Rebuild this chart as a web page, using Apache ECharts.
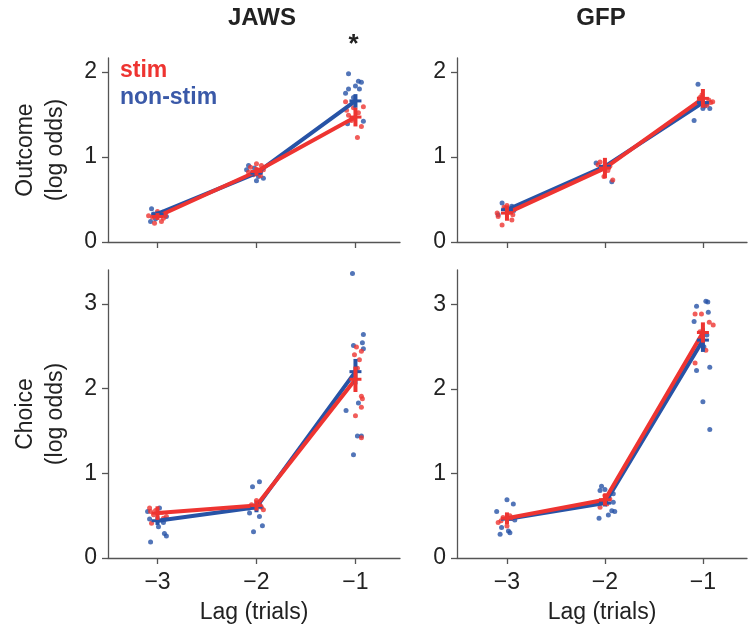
<!DOCTYPE html>
<html>
<head>
<meta charset="utf-8">
<script src="https://cdn.jsdelivr.net/npm/echarts@6/dist/echarts.min.js"></script>
<style>
html,body{margin:0;padding:0;background:#fff;}
#chart{width:754px;height:625px;}
</style>
</head>
<body>
<div id="chart"></div>
<script>
// ---------- data ----------
const lags = [-3, -2, -1];
const xTickLabels = ['\u22123', '\u22122', '\u22121'];
const outcomeTicks = [0, 1, 2];
const choiceTicks = [0, 1, 2, 3];
const panelTitles = ['JAWS', 'GFP'];
const rowNames = ['Outcome\n(log odds)', 'Choice\n(log odds)'];
const xName = 'Lag (trials)';
const legendNames = ['stim', 'non-stim'];

// JAWS - Outcome
const jawsOutStimMean = [0.30, 0.83, 1.47];
const jawsOutStimSem = [0.04, 0.05, 0.11];
const jawsOutNonMean = [0.33, 0.81, 1.66];
const jawsOutNonSem = [0.03, 0.03, 0.08];
const jawsOutStimDots = [[-3.09,0.31],[-3.03,0.22],[-2.94,0.28],[-3.0,0.36],[-2.96,0.24],[-3.05,0.29],[-2.99,0.33],[-2.92,0.31],
  [-2.06,0.88],[-1.95,0.90],[-1.93,0.85],[-2.03,0.79],[-1.98,0.84],[-2.08,0.82],[-2.0,0.92],[-1.96,0.78],
  [-1.10,1.65],[-0.92,1.59],[-1.09,1.55],[-1.07,1.49],[-0.94,1.36],[-0.98,1.23],[-1.04,1.43],[-1.02,1.58],[-0.97,1.52]];
const jawsOutNonDots = [[-3.06,0.39],[-3.07,0.24],[-2.91,0.30],[-2.95,0.35],[-3.02,0.27],[-3.04,0.33],[-2.97,0.31],
  [-2.08,0.90],[-2.10,0.85],[-2.0,0.72],[-1.98,0.77],[-1.93,0.75],[-1.96,0.82],[-2.04,0.80],[-2.02,0.87],
  [-1.07,1.98],[-0.97,1.89],[-0.94,1.88],[-1.0,1.835],[-1.07,1.80],[-1.10,1.75],[-0.92,1.42],[-1.08,1.39],[-1.02,1.70],[-0.96,1.80]];

// GFP - Outcome
const gfpOutStimMean = [0.34, 0.87, 1.69];
const gfpOutStimSem = [0.09, 0.12, 0.11];
const gfpOutNonMean = [0.38, 0.89, 1.64];
const gfpOutNonSem = [0.03, 0.04, 0.05];
const gfpOutStimDots = [[-3.10,0.34],[-3.05,0.20],[-2.94,0.32],[-2.95,0.26],[-3.0,0.43],[-3.09,0.30],[-3.03,0.41],[-2.97,0.36],
  [-1.92,0.73],[-2.05,0.94],[-1.95,0.89],[-2.01,0.77],[-2.07,0.91],[-1.97,0.84],
  [-0.90,1.65],[-1.01,1.73],[-0.94,1.67],[-0.96,1.61],[-1.03,1.70],[-0.92,1.64]];
const gfpOutNonDots = [[-3.05,0.46],[-3.09,0.32],[-2.95,0.42],[-2.99,0.35],[-3.02,0.39],[-2.93,0.37],
  [-2.09,0.93],[-1.93,0.71],[-2.05,0.85],[-1.97,0.90],[-2.02,0.88],
  [-1.05,1.855],[-1.09,1.43],[-1.0,1.57],[-0.93,1.57],[-0.96,1.63],[-1.03,1.68],[-0.98,1.60]];

// JAWS - Choice
const jawsChoStimMean = [0.53, 0.62, 2.11];
const jawsChoStimSem = [0.08, 0.06, 0.15];
const jawsChoNonMean = [0.44, 0.60, 2.20];
const jawsChoNonSem = [0.05, 0.06, 0.15];
const jawsChoStimDots = [[-3.08,0.59],[-3.06,0.41],[-3.04,0.51],[-2.94,0.47],[-2.91,0.49],[-3.07,0.55],[-3.02,0.56],
  [-2.0,0.68],[-1.93,0.57],[-2.03,0.60],[-1.97,0.65],[-2.05,0.63],[-1.95,0.60],
  [-0.99,2.49],[-1.01,2.40],[-0.94,2.44],[-0.96,2.34],[-0.98,2.24],[-0.94,1.91],[-0.93,1.88],[-0.94,1.78],[-1.0,1.68],[-0.94,1.42]];
const jawsChoNonDots = [[-3.10,0.55],[-3.08,0.46],[-3.07,0.19],[-2.99,0.37],[-2.93,0.29],[-2.91,0.26],[-2.94,0.42],[-2.98,0.59],[-2.92,0.46],
  [-2.04,0.84],[-1.97,0.90],[-2.07,0.53],[-2.03,0.31],[-1.94,0.38],[-1.97,0.49],[-2.08,0.59],[-1.99,0.64],
  [-1.03,3.36],[-0.92,2.64],[-0.93,2.54],[-0.92,2.47],[-1.02,2.51],[-1.095,1.74],[-0.97,1.83],[-0.98,1.44],[-0.94,1.44],[-1.02,1.22]];

// GFP - Choice
const gfpChoStimMean = [0.47, 0.69, 2.67];
const gfpChoStimSem = [0.07, 0.07, 0.12];
const gfpChoNonMean = [0.46, 0.65, 2.58];
const gfpChoNonSem = [0.04, 0.04, 0.14];
const gfpChoStimDots = [[-3.09,0.42],[-3.04,0.48],[-2.97,0.50],[-3.0,0.38],[-3.06,0.44],[-2.95,0.47],
  [-2.05,0.60],[-1.95,0.70],[-2.0,0.74],[-1.98,0.64],
  [-1.08,2.89],[-1.015,2.89],[-0.895,2.76],[-0.935,2.79],[-1.03,2.68],[-0.97,2.46],[-1.08,2.31]];
const gfpChoNonDots = [[-3.105,0.55],[-3.0,0.69],[-2.935,0.64],[-2.92,0.45],[-3.07,0.28],[-2.985,0.32],[-2.97,0.30],[-3.055,0.36],
  [-2.035,0.85],[-2.0,0.81],[-2.05,0.80],[-1.915,0.76],[-1.915,0.66],[-1.93,0.56],[-1.9,0.55],[-1.965,0.51],[-2.06,0.47],
  [-1.065,2.98],[-0.97,3.04],[-0.95,3.03],[-0.945,2.91],[-1.09,2.80],[-0.96,2.64],[-0.93,2.26],[-1.065,2.22],[-1.0,1.85],[-0.93,1.52],[-0.99,2.50]];

const sigMarkLag = -1;
const sigMarkText = '*';

// ---------- styling ----------
const RED = '#ee3431';
const BLUE = '#2753a6';
const BLUE_TXT = '#3a59a8';
const AX = '#555555';
const TXT = '#222222';
const FONT = '"Liberation Sans", Arial, sans-serif';

const panels = [
  {grid:{left:108, top:58, width:292, height:184}, xmin:-3.5, xmax:-0.55, ymax:2.165, yt:outcomeTicks, xlab:false, yname:rowNames[0],
   s:[jawsOutStimMean, jawsOutStimSem, jawsOutStimDots], n:[jawsOutNonMean, jawsOutNonSem, jawsOutNonDots]},
  {grid:{left:457, top:58, width:290, height:184}, xmin:-3.51, xmax:-0.55, ymax:2.165, yt:outcomeTicks, xlab:false, yname:'',
   s:[gfpOutStimMean, gfpOutStimSem, gfpOutStimDots], n:[gfpOutNonMean, gfpOutNonSem, gfpOutNonDots]},
  {grid:{left:108, top:270, width:292, height:288}, xmin:-3.5, xmax:-0.55, ymax:3.40, yt:choiceTicks, xlab:true, yname:rowNames[1],
   s:[jawsChoStimMean, jawsChoStimSem, jawsChoStimDots], n:[jawsChoNonMean, jawsChoNonSem, jawsChoNonDots]},
  {grid:{left:457, top:270, width:290, height:289}, xmin:-3.51, xmax:-0.55, ymax:3.41, yt:choiceTicks, xlab:true, yname:'',
   s:[gfpChoStimMean, gfpChoStimSem, gfpChoStimDots], n:[gfpChoNonMean, gfpChoNonSem, gfpChoNonDots]}
];

const grids = [], xAxes = [], yAxes = [], series = [];

function errSeries(i, mean, sem, color, z) {
  return {
    type: 'custom', xAxisIndex: i, yAxisIndex: i, z: z, silent: true,
    data: lags.map((l, k) => [l, mean[k], sem[k]]),
    encode: {x: 0, y: 1},
    renderItem: function (params, api) {
      const x = api.value(0), m = api.value(1), e = api.value(2);
      const top = api.coord([x, m + e]);
      const bot = api.coord([x, m - e]);
      const mid = api.coord([x, m]);
      return {
        type: 'group',
        children: [
          {type: 'line', shape: {x1: top[0], y1: top[1], x2: bot[0], y2: bot[1]}, style: {stroke: color, lineWidth: 4}},
          {type: 'line', shape: {x1: mid[0] - 6, y1: mid[1], x2: mid[0] + 6, y2: mid[1]}, style: {stroke: color, lineWidth: 3}}
        ]
      };
    }
  };
}

panels.forEach((p, i) => {
  grids.push(Object.assign({containLabel: false}, p.grid));
  xAxes.push({
    type: 'value', gridIndex: i, min: p.xmin, max: p.xmax,
    axisLine: {show: true, onZero: false, lineStyle: {color: AX, width: 1.3}},
    axisTick: {show: true, inside: false, length: 6, customValues: lags, lineStyle: {color: AX, width: 1.3}},
    axisLabel: {show: p.xlab, customValues: lags, margin: 13, color: TXT, fontSize: 23, fontFamily: FONT,
      formatter: v => xTickLabels[lags.indexOf(Math.round(v))] || ''},
    splitLine: {show: false},
    name: p.xlab ? xName : '', nameLocation: 'middle', nameGap: 43,
    nameTextStyle: {color: TXT, fontSize: 23, fontFamily: FONT}
  });
  yAxes.push({
    type: 'value', gridIndex: i, min: 0, max: p.ymax,
    axisLine: {show: true, onZero: false, lineStyle: {color: AX, width: 1.3}},
    axisTick: {show: true, inside: false, length: 6, customValues: p.yt, lineStyle: {color: AX, width: 1.3}},
    axisLabel: {show: true, customValues: p.yt, margin: 11, color: TXT, fontSize: 23, fontFamily: FONT},
    splitLine: {show: false},
    name: p.yname, nameLocation: 'middle', nameGap: 37, nameRotate: 90,
    nameTextStyle: {color: TXT, fontSize: 23, fontFamily: FONT, lineHeight: 30}
  });
  series.push({type: 'scatter', xAxisIndex: i, yAxisIndex: i, data: p.n[2], symbolSize: 5, itemStyle: {color: BLUE}, z: 1, silent: true});
  series.push({type: 'scatter', xAxisIndex: i, yAxisIndex: i, data: p.s[2], symbolSize: 5, itemStyle: {color: RED}, z: 1, silent: true});
  series.push({type: 'line', xAxisIndex: i, yAxisIndex: i, data: lags.map((l, k) => [l, p.n[0][k]]), showSymbol: false,
    lineStyle: {color: BLUE, width: 4}, z: 2, silent: true});
  series.push({type: 'line', xAxisIndex: i, yAxisIndex: i, data: lags.map((l, k) => [l, p.s[0][k]]), showSymbol: false,
    lineStyle: {color: RED, width: 4}, z: 3, silent: true});
  series.push(errSeries(i, p.n[0], p.n[1], BLUE, 4));
  series.push(errSeries(i, p.s[0], p.s[1], RED, 5));
});

const chart = echarts.init(document.getElementById('chart'), null, {renderer: 'canvas'});
chart.setOption({
  animation: false,
  backgroundColor: '#ffffff',
  grid: grids, xAxis: xAxes, yAxis: yAxes, series: series,
  graphic: [
    {id: 't0', type: 'text', x: 262, y: 18, style: {text: panelTitles[0], fill: TXT, font: 'bold 24px ' + FONT, textAlign: 'center', textVerticalAlign: 'middle'}},
    {id: 't1', type: 'text', x: 601, y: 18, style: {text: panelTitles[1], fill: TXT, font: 'bold 24px ' + FONT, textAlign: 'center', textVerticalAlign: 'middle'}},
    {id: 'l0', type: 'text', x: 120, y: 71, style: {text: legendNames[0], fill: RED, font: 'bold 23px ' + FONT, textAlign: 'left', textVerticalAlign: 'middle'}},
    {id: 'l1', type: 'text', x: 120, y: 98, style: {text: legendNames[1], fill: BLUE_TXT, font: 'bold 23px ' + FONT, textAlign: 'left', textVerticalAlign: 'middle'}}
  ]
});
// significance star placed at lag -1 of the first panel, via the axis scale
const starPos = chart.convertToPixel({xAxisIndex: 0, yAxisIndex: 0}, [sigMarkLag, 0]);
chart.setOption({graphic: [{id: 'star', type: 'text', x: starPos[0] - 2, y: 45, style: {text: sigMarkText, fill: TXT, font: 'bold 26px ' + FONT, textAlign: 'center', textVerticalAlign: 'middle'}}]});
</script>
</body>
</html>
